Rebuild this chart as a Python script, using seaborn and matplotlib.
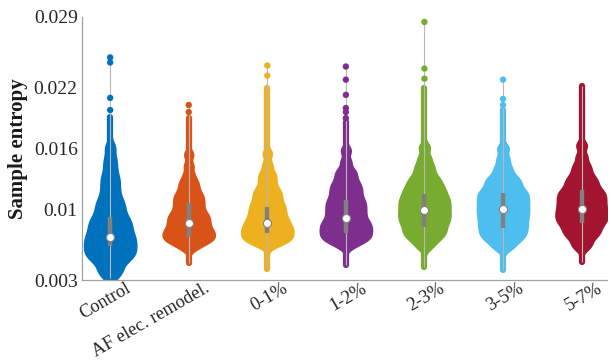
import numpy as np
import pandas as pd
import matplotlib
matplotlib.use("Agg")
import matplotlib.pyplot as plt
import matplotlib.transforms as mtransforms
import seaborn as sns

categories = ["Control", "AF elec. remodel.", "0-1%", "1-2%", "2-3%", "3-5%", "5-7%"]
colors = ["#0072BD", "#D95319", "#EDB120", "#7E2F8E", "#77AC30", "#4DBEEE", "#A2142F"]

# representative samples (evenly spaced quantiles) of each group's body
control_vals = [0.00340, 0.00379, 0.00418, 0.00457, 0.00496, 0.00517, 0.00535, 0.00554, 0.00573, 0.00591,
                0.00610, 0.00629, 0.00647, 0.00666, 0.00685, 0.00703, 0.00722, 0.00741, 0.00761, 0.00783,
                0.00806, 0.00828, 0.00851, 0.00873, 0.00895, 0.00918, 0.00950, 0.00983, 0.01016, 0.01049,
                0.01082, 0.01125, 0.01178, 0.01232, 0.01286, 0.01340, 0.01419, 0.01500, 0.01610]
af_vals = [0.00615, 0.00644, 0.00671, 0.00684, 0.00697, 0.00709, 0.00722, 0.00734, 0.00747, 0.00760,
           0.00772, 0.00785, 0.00797, 0.00813, 0.00829, 0.00844, 0.00860, 0.00876, 0.00892, 0.00907,
           0.00923, 0.00939, 0.00955, 0.00975, 0.00997, 0.01019, 0.01042, 0.01064, 0.01086, 0.01109,
           0.01131, 0.01153, 0.01184, 0.01218, 0.01253, 0.01287, 0.01345, 0.01430, 0.01540]
p01_vals = [0.00642, 0.00665, 0.00685, 0.00698, 0.00711, 0.00724, 0.00738, 0.00751, 0.00764, 0.00777,
            0.00791, 0.00804, 0.00817, 0.00830, 0.00844, 0.00859, 0.00875, 0.00891, 0.00907, 0.00923,
            0.00942, 0.00961, 0.00980, 0.00999, 0.01018, 0.01037, 0.01056, 0.01080, 0.01104, 0.01129,
            0.01153, 0.01177, 0.01202, 0.01243, 0.01284, 0.01324, 0.01365, 0.01440, 0.01550]
p12_vals = [0.00637, 0.00670, 0.00691, 0.00706, 0.00721, 0.00736, 0.00751, 0.00766, 0.00781, 0.00796,
            0.00811, 0.00826, 0.00841, 0.00856, 0.00871, 0.00887, 0.00907, 0.00926, 0.00946, 0.00965,
            0.00985, 0.01004, 0.01024, 0.01043, 0.01063, 0.01082, 0.01102, 0.01127, 0.01152, 0.01176,
            0.01201, 0.01225, 0.01250, 0.01281, 0.01318, 0.01355, 0.01391, 0.01470, 0.01580]
p23_vals = [0.00627, 0.00676, 0.00706, 0.00734, 0.00754, 0.00774, 0.00794, 0.00814, 0.00835, 0.00855,
            0.00873, 0.00890, 0.00907, 0.00924, 0.00941, 0.00958, 0.00975, 0.00992, 0.01009, 0.01027,
            0.01044, 0.01061, 0.01078, 0.01095, 0.01112, 0.01131, 0.01151, 0.01171, 0.01191, 0.01212,
            0.01235, 0.01261, 0.01287, 0.01313, 0.01353, 0.01398, 0.01443, 0.01510, 0.01610]
p35_vals = [0.00618, 0.00655, 0.00692, 0.00715, 0.00735, 0.00755, 0.00775, 0.00794, 0.00813, 0.00832,
            0.00851, 0.00869, 0.00888, 0.00907, 0.00925, 0.00943, 0.00961, 0.00979, 0.00996, 0.01014,
            0.01032, 0.01050, 0.01068, 0.01086, 0.01104, 0.01122, 0.01139, 0.01157, 0.01175, 0.01195,
            0.01220, 0.01246, 0.01271, 0.01296, 0.01323, 0.01373, 0.01424, 0.01500, 0.01600]
p57_vals = [0.00621, 0.00663, 0.00705, 0.00739, 0.00761, 0.00783, 0.00805, 0.00827, 0.00849, 0.00867,
            0.00884, 0.00900, 0.00916, 0.00932, 0.00948, 0.00965, 0.00981, 0.00997, 0.01014, 0.01032,
            0.01049, 0.01066, 0.01084, 0.01101, 0.01118, 0.01136, 0.01153, 0.01170, 0.01187, 0.01212,
            0.01237, 0.01263, 0.01288, 0.01314, 0.01353, 0.01398, 0.01443, 0.01520, 0.01630]

# box statistics: lower quartile, median, upper quartile
box_q1 = [0.0064, 0.0073, 0.0077, 0.0077, 0.0082, 0.0081, 0.0086]
box_med = [0.00725, 0.0086, 0.0086, 0.0091, 0.0099, 0.0100, 0.0100]
box_q3 = [0.0092, 0.0106, 0.0102, 0.0109, 0.0115, 0.0116, 0.0119]

# extent of the thin, densely dotted tails below / above each body
tail_low = [0.0032, 0.0047, 0.0041, 0.0045, 0.0043, 0.0040, 0.0048]
tail_high = [0.0191, 0.0190, 0.0220, 0.0186, 0.0220, 0.0198, 0.0222]

# isolated extreme points above the bodies
control_out = [0.0198, 0.0210, 0.0245, 0.0250]
af_out = [0.0196, 0.0203]
p01_out = [0.0232, 0.0242]
p12_out = [0.0190, 0.0196, 0.0200, 0.0213, 0.0228, 0.0241]
p23_out = [0.0229, 0.0239, 0.0285]
p35_out = [0.0203, 0.0209, 0.0228]
p57_out = []

yticks = [0.003, 0.01, 0.016, 0.022, 0.029]
ytick_labels = ["0.003", "0.01", "0.016", "0.022", "0.029"]

body_lists = [control_vals, af_vals, p01_vals, p12_vals, p23_vals, p35_vals, p57_vals]
out_lists = [control_out, af_out, p01_out, p12_out, p23_out, p35_out, p57_out]

df = pd.DataFrame([(c, v) for c, vals in zip(categories, body_lists) for v in vals],
                  columns=["group", "value"])
df_out = pd.DataFrame([(c, v) for c, vals in zip(categories, out_lists) for v in vals],
                      columns=["group", "value"])

sns.set_theme(style="white")
plt.rcParams["font.family"] = ["Liberation Serif", "DejaVu Serif"]

fig = plt.figure(figsize=(6.11, 3.60), dpi=100)
ax = fig.add_axes([0.134, 0.222, 0.859, 0.731])

palette = dict(zip(categories, colors))

# thin dotted tails (drawn under the bodies)
for i in range(len(categories)):
    ax.vlines(i, tail_low[i], tail_high[i], color=colors[i], lw=4.5, zorder=1.5,
              capstyle="round")

common = dict(data=df, x="group", y="value", hue="group", order=categories, hue_order=categories,
              palette=palette, inner=None, cut=2.5, bw_adjust=0.34, density_norm="width",
              width=0.64, saturation=1, legend=False, ax=ax)
n0 = len(ax.collections)
sns.violinplot(linewidth=2.5, **common)
for coll, col in zip(ax.collections[n0:], colors):
    coll.set_edgecolor(col)
    coll.set_zorder(2)
n1 = len(ax.collections)
sns.violinplot(fill=False, linewidth=0.8, linecolor="#9a9a9a", **common)
for coll in ax.collections[n1:]:
    coll.set_alpha(0.6)
    coll.set_zorder(2.5)

# whiskers, boxes, medians
for i, outs in enumerate(out_lists):
    top = max(outs + [tail_high[i]])
    ax.vlines(i, tail_low[i], top, color="#b8b8b8", lw=0.8, zorder=3)
    ax.vlines(i, box_q1[i], box_q3[i], color="#808080", lw=3.2, zorder=4)
    ax.scatter([i], [box_med[i]], s=34, color="white", edgecolors="#808080",
               linewidths=0.8, zorder=6)

sns.stripplot(data=df_out, x="group", y="value", hue="group", order=categories,
              hue_order=categories, palette=palette, jitter=False, size=4.6,
              linewidth=0, legend=False, ax=ax, zorder=5)

ax.set_xlim(-0.36, 6.32)
ax.set_ylim(0.003, 0.029)
ax.set_yticks(yticks)
ax.set_yticklabels(ytick_labels)
ax.set_xticks(range(len(categories)))
ax.set_xticklabels([])
label_tr = ax.get_xaxis_transform() + mtransforms.ScaledTranslation(
    15 / 100, 0, fig.dpi_scale_trans)
for i, cat in enumerate(categories):
    ax.text(i, 0, cat, transform=label_tr, rotation=30, ha="right", va="top",
            rotation_mode="anchor", fontsize=13.2, color="#262626")
ax.set_xlabel("")
ax.set_ylabel("Sample entropy", fontsize=15, fontweight="bold", color="#1a1a1a", labelpad=4)
ax.tick_params(axis="both", direction="in", length=4, width=0.8, color="#a0a0a0",
               labelsize=14, labelcolor="#262626", pad=3)
for s in ["top", "right"]:
    ax.spines[s].set_visible(False)
for s in ["left", "bottom"]:
    ax.spines[s].set_color("#a0a0a0")
    ax.spines[s].set_linewidth(0.9)

fig.savefig("out.png", dpi=100)
